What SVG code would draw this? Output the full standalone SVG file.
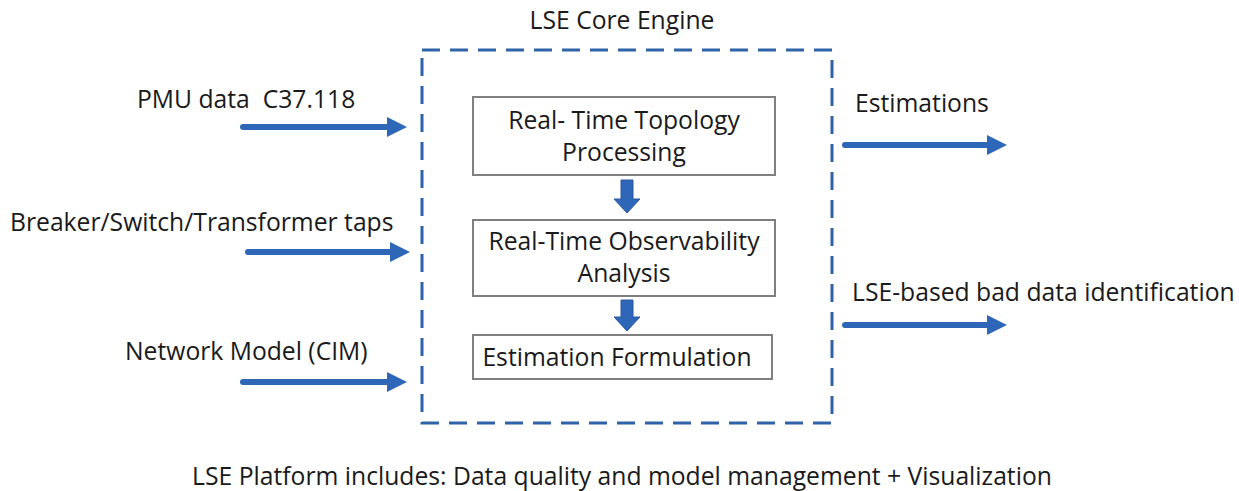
<svg xmlns="http://www.w3.org/2000/svg" width="1239" height="491" viewBox="0 0 1239 491">
  <defs>
    <style>
      text { font-family: "Open Sans", "Liberation Sans", Arial, sans-serif; font-size: 24.7px; fill: #1a1a1a; }
      .mid { text-anchor: middle; }
      .frame { fill: none; stroke: #2f62a8; stroke-width: 3; stroke-dasharray: 18 10; }
      .box { fill: #ffffff; stroke: #7f7f7f; stroke-width: 2; }
      .flow { stroke: #2e67b8; stroke-width: 6; stroke-linecap: round; fill: none; }
      .head { fill: #2e67b8; }
      .step { fill: #2e67b8; stroke: #2a5aa0; stroke-width: 1; }
    </style>
  </defs>

  <!-- core engine frame -->
  <g id="core-engine">
    <rect class="frame" x="422" y="50" width="410" height="373"/>
    <text class="mid" x="622" y="29">LSE Core Engine</text>
  </g>

  <g id="topology">
    <rect class="box" x="473" y="97" width="302" height="78"/>
    <text class="mid" x="624" y="129">Real- Time Topology</text>
    <text class="mid" x="624" y="161">Processing</text>
  </g>

  <g id="observability">
    <rect class="box" x="473" y="220" width="302" height="76"/>
    <text class="mid" x="624" y="250">Real-Time Observability</text>
    <text class="mid" x="624" y="282">Analysis</text>
  </g>

  <g id="formulation">
    <rect class="box" x="473" y="335" width="299" height="44"/>
    <text class="mid" x="617" y="366">Estimation Formulation</text>
  </g>

  <!-- input / output labels -->
  <g id="in-pmu"><text x="137" y="108" xml:space="preserve">PMU data  C37.118</text></g>
  <g id="in-breaker"><text x="10" y="231">Breaker/Switch/Transformer taps</text></g>
  <g id="in-network"><text x="125" y="360">Network Model (CIM)</text></g>
  <g id="out-estimations"><text x="855" y="112">Estimations</text></g>
  <g id="out-baddata"><text x="852" y="301">LSE-based bad data identification</text></g>
  <g id="platform-note"><text class="mid" x="622" y="485">LSE Platform includes: Data quality and model management + Visualization</text></g>

  <!-- connectors -->
  <g id="connectors">
    <line class="flow" x1="243" y1="127" x2="390" y2="127"/>
    <polygon class="head" points="387,117 407,127 387,137"/>

    <line class="flow" x1="248" y1="252" x2="393" y2="252"/>
    <polygon class="head" points="390,242 410,252 390,262"/>

    <line class="flow" x1="243" y1="382" x2="390" y2="382"/>
    <polygon class="head" points="387,372 407,382 387,392"/>

    <line class="flow" x1="845" y1="145" x2="990" y2="145"/>
    <polygon class="head" points="987,135 1007,145 987,155"/>

    <line class="flow" x1="845" y1="325" x2="990" y2="325"/>
    <polygon class="head" points="987,315 1007,325 987,335"/>

    <polygon class="step" points="621,180 633,180 633,199 640,199 627,213 614,199 621,199"/>
    <polygon class="step" points="621,300 633,300 633,317 640,317 627,331 614,317 621,317"/>
  </g>
</svg>
